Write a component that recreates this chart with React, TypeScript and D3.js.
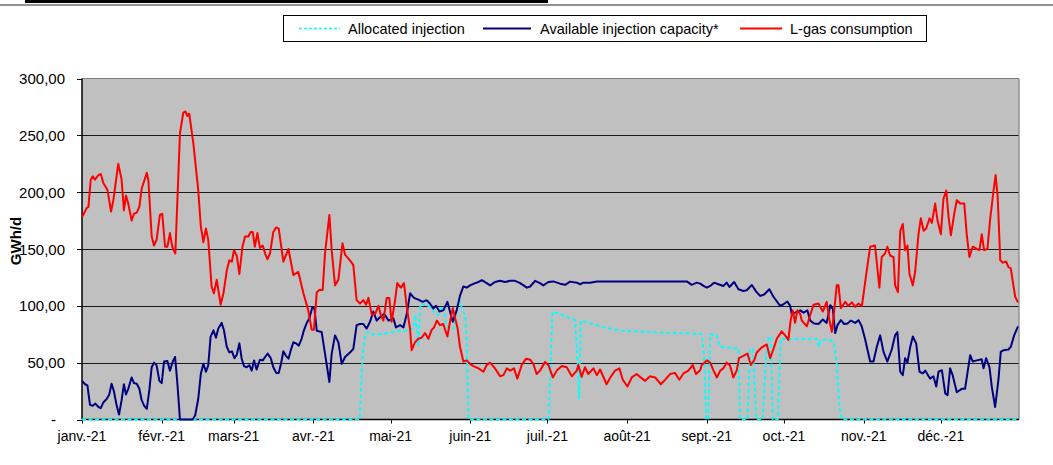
import React from 'react';
import * as d3 from 'd3';

const monthLabels = ["janv.-21", "févr.-21", "mars-21", "avr.-21", "mai-21", "juin-21", "juil.-21", "août-21", "sept.-21", "oct.-21", "nov.-21", "déc.-21"];
const yTicks = [0, 50, 100, 150, 200, 250, 300];
const seriesNames = ["Allocated injection", "Available injection capacity*", "L-gas consumption"];
const yTitle = "GWh/d";

// [day of year (0 = 1 Jan 2021), GWh/d]
const allocated: [number, number][] = [
  [0, 0], [108, 0], [109, 52], [110, 74], [111, 77], [113, 75], [116, 75], [118.5, 76], [121, 77], [124, 78], [126.5, 78.5],
  [129, 80], [129.5, 92], [130.2, 80], [130.8, 65], [131.5, 99], [132, 102], [134.7, 100], [136, 98.5], [137.3, 93], [138.6, 92],
  [139.9, 99], [140.8, 99], [141.6, 83], [143, 80], [144.7, 80], [145.7, 96], [147, 103.5], [148, 96], [149, 92], [149.6, 70],
  [150.3, 0], [181.4, 0], [183, 95], [191.8, 87.5], [192.7, 52], [193.3, 18], [194, 87], [196.3, 85.4], [204, 80.5], [210.5, 78],
  [223.5, 76.7], [235.2, 75.8], [241, 75.2], [242, 55], [242.7, 0], [243.5, 0], [244.3, 75], [246.8, 74.2], [248.1, 64],
  [255.3, 62.5], [255.9, 0], [258.8, 0], [259.8, 62], [261, 61], [262.2, 0], [264.7, 0], [266, 55], [267, 72.7], [267.9, 72],
  [268.6, 0], [270.6, 0], [271.7, 71], [285.7, 71], [286.5, 64], [287.3, 70], [291, 70], [292.5, 67], [293.5, 49], [294.6, 11],
  [295.5, 0], [364, 0]
];

const capacity: [number, number][] = [
  [0, 34], [1.2, 31], [2.1, 30], [3.1, 13], [4.1, 12], [5.2, 14], [6.4, 11], [7.3, 10], [8.3, 15], [9.6, 18], [10.6, 22],
  [11.5, 31.5], [12.4, 25], [13.5, 12], [14.4, 4.4], [15.4, 17], [16.3, 31], [17.1, 22], [18, 27], [19.3, 37], [20.2, 32],
  [21.3, 31.5], [22.3, 27], [23.2, 17], [24.2, 12], [25.2, 9.4], [26.2, 26], [27.1, 46], [28, 50], [29, 47.6], [30.1, 34],
  [31, 32], [31.9, 51], [33.2, 51.5], [34.2, 43], [35.3, 51], [36.2, 55], [37.1, 31.5], [38.1, 0], [43, 0], [44, 3.5],
  [45.2, 18], [46.2, 40], [47.2, 49], [48.2, 42], [49.1, 47.6], [50, 72.6], [51.1, 78.5], [52.1, 72], [53, 80], [54.3, 85],
  [55.2, 78.5], [56.3, 64], [57.3, 59], [58.3, 60], [59.3, 54], [60.2, 57], [61.2, 67], [62.1, 53.5], [63, 47], [64, 46],
  [65.1, 47.6], [66, 43], [66.9, 52], [67.9, 44], [69.2, 52.6], [70.3, 52], [71.2, 55], [72.2, 58], [73.4, 54], [74.4, 46],
  [75.5, 41], [76.5, 41], [77.4, 49], [78.3, 60], [79.3, 56], [80.3, 53.5], [81.2, 61], [82.2, 68], [83.2, 67], [84.3, 65],
  [85.4, 71], [86.3, 78.5], [87.4, 85], [88.4, 89], [89.6, 99], [90.4, 97.6], [91.3, 78], [93.2, 77], [94.5, 58], [96.2, 33],
  [97.1, 58], [98.4, 74], [99.7, 68], [101, 49], [102.3, 55], [104.2, 59], [105.5, 62], [106.8, 83], [108.1, 84], [109.4, 84],
  [110.7, 80], [112, 86], [113.3, 95], [114.6, 87], [115.9, 90], [117.5, 93], [119.2, 87], [121.1, 89], [122.1, 81], [123.7, 83],
  [125, 81], [126.3, 93], [127.6, 111], [129.1, 107], [130.8, 105.5], [132.5, 103.5], [134, 105], [135.3, 102], [136.6, 97.6],
  [137.7, 100], [139, 95], [140.5, 96], [142.1, 103.5], [143.1, 95], [144.2, 86], [145.7, 96], [147, 109], [148.3, 117],
  [149.6, 116], [150.9, 118], [152.9, 120], [154.2, 121], [155.5, 122.6], [157.4, 120], [158.7, 118], [160.6, 121], [162.6, 122],
  [164.5, 121], [166.5, 122], [168.4, 122], [170.4, 120], [173, 116], [174.3, 117], [176.2, 122], [178.1, 120], [179.4, 118],
  [181.4, 121], [183.3, 121.5], [185.9, 119.5], [187.9, 118.5], [189.8, 121.3], [192.4, 120.4], [193.7, 119], [195, 120.4],
  [197.6, 120.4], [200.2, 121.5], [210.5, 121.5], [235.2, 121.5], [237.1, 118.5], [239.1, 120.4], [240.4, 119.5], [241.7, 117.5],
  [243, 116], [244.3, 117.5], [245.8, 120.4], [247.5, 119], [249.4, 117.5], [250.7, 120.4], [251.8, 116.6], [253.6, 121],
  [255.3, 114.6], [257.2, 113], [258.5, 113.7], [260.5, 118.3], [262.2, 112.5], [263.7, 108.7], [265.3, 110], [267.3, 114.6],
  [268.9, 108], [271.5, 100], [272.8, 101.4], [274.3, 103.8], [275.4, 100], [276, 93], [277.3, 94], [279.3, 96], [280.6, 94],
  [282.1, 96], [283.2, 87], [284.7, 84.5], [286.4, 84], [288.1, 88], [289.6, 85], [291, 100.6], [292, 97], [292.9, 76],
  [293.8, 83], [295.1, 87.4], [296.4, 84], [297.7, 84.5], [299, 87], [300.7, 85], [302, 87.4], [303.2, 82], [304.5, 71],
  [306.5, 51], [307.8, 51], [309.1, 64], [310.4, 74], [311.7, 59.5], [313.2, 51], [314.9, 61.6], [316.2, 74], [317.1, 77],
  [318.2, 42], [319.2, 39], [320.1, 54], [321, 50], [322.1, 64], [323.1, 73], [324.4, 67], [325.7, 42], [327, 40.5], [327.9, 43],
  [329.8, 36], [331.1, 38], [332.2, 29], [333.1, 42], [334.4, 43.4], [335.7, 23], [336.6, 21.4], [337.6, 45], [338.6, 39],
  [340.2, 24], [342.1, 27], [343.4, 27], [345.4, 56.6], [346.4, 51], [348, 52], [349.9, 53], [350.6, 45], [351.6, 54],
  [352.9, 46], [353.8, 29], [355.1, 11], [356.4, 35], [357.3, 59.5], [358.4, 61], [360.3, 61.6], [361.2, 64], [362.5, 74], [364, 82]
];

const consumption: [number, number][] = [
  [0, 178], [1.8, 186], [2.5, 187], [3.4, 211], [4.2, 214], [5, 211], [6.4, 215], [7.3, 216], [8.3, 208], [9.9, 202], [11.3, 183],
  [12.2, 193], [14.1, 225], [15.4, 211], [16.3, 184], [17.1, 197], [18, 190], [19.3, 175], [20.2, 181], [21.3, 182], [22.3, 187],
  [23.2, 203], [25.2, 217], [25.8, 211], [27.1, 161], [28, 153], [29, 158], [30.3, 180], [31.2, 181], [32.3, 152], [33.2, 152],
  [34.2, 164], [35.1, 152], [36.3, 146], [38.1, 252], [39.4, 270], [40.2, 271], [41, 267], [41.7, 269], [43.3, 243], [45.2, 202],
  [46.2, 170], [47.2, 156], [48.2, 168], [49.1, 158], [50.4, 117], [51.3, 111], [52.4, 123], [53.9, 101], [55, 111], [56.3, 131],
  [57.3, 140], [58.3, 139], [59.1, 149], [60.2, 144], [61.2, 128], [62.4, 152], [63.4, 161], [64.7, 161], [65.6, 165], [66.4, 165],
  [67.2, 152], [68.2, 164], [69.2, 151], [70.3, 153], [71.2, 146], [72.1, 141], [73.1, 146], [74.4, 165], [75.5, 169], [76.5, 168],
  [78.3, 139], [80.3, 150], [82.2, 127], [84.1, 130], [86.1, 111], [88, 96], [89.3, 79], [90.2, 79], [91.3, 112], [92.3, 114],
  [93.6, 114], [94.5, 146], [96.2, 180], [97.1, 149], [98.4, 118], [99.7, 123], [101.3, 155], [102.3, 145], [104.2, 140],
  [105.5, 136], [106.8, 105], [108.1, 102], [109.4, 105], [110.5, 101], [111.4, 107], [112.7, 92], [114, 93], [115.3, 100],
  [116.2, 92], [117.2, 87], [118.5, 107], [119.5, 107], [120.4, 86], [121.7, 104], [122.6, 120], [124, 116], [125.2, 120],
  [126.3, 99], [127.6, 79], [128.2, 61], [129.5, 68], [130.8, 71], [132.1, 72], [133.4, 76], [134.7, 71], [136, 79], [136.9, 81],
  [138, 87], [139.2, 83], [140.5, 84], [141.2, 79], [142.1, 73], [143.1, 86], [144.2, 98], [145.1, 89], [146, 81], [147, 64],
  [148.3, 51], [149.6, 52], [150.9, 49], [152.2, 47], [154.2, 45], [156.1, 42], [157.4, 48], [158.7, 50], [160.6, 45], [162.6, 38],
  [163.9, 39], [165.2, 45], [166.5, 43], [168, 45], [169.3, 36], [171, 48], [172.7, 53.5], [174.3, 52.6], [175.5, 49], [176.8, 40],
  [178.1, 43], [180.1, 50.7], [181.4, 47.8], [183.1, 37], [184.6, 43], [186.6, 47], [188.5, 46], [190.5, 38], [192.4, 43], [193, 48],
  [194.3, 37.5], [195.6, 46], [196.9, 40], [198.9, 45], [200.2, 39], [201.5, 44], [204, 31], [205.6, 37.5], [207.3, 43], [209, 45],
  [210.3, 35], [212.1, 29], [213.8, 37], [215.7, 40], [217, 37.5], [219, 34], [220.9, 38], [222.9, 37], [225.1, 31], [226.8, 35],
  [228.7, 40], [230.6, 41], [232.3, 35], [233.9, 40.5], [235.8, 43], [237.5, 48], [238.8, 40], [240.4, 43.4], [241, 48], [243, 52],
  [244.3, 50], [245.6, 43], [246.9, 37], [248.2, 43], [249.4, 45], [250.7, 50], [252, 47.5], [253.3, 37], [254.6, 43], [255.5, 54],
  [257.2, 56], [258.8, 58], [260.1, 48], [261.4, 52], [262.4, 59], [264.4, 63.5], [266.3, 66], [267.6, 54], [268.9, 62], [270.2, 71],
  [272.1, 77.5], [273.4, 74], [274.7, 70], [275.6, 87.5], [276.4, 96], [277.3, 85], [278.2, 96], [279.3, 93], [279.9, 87], [281.9, 82],
  [283.2, 92], [284.5, 101], [286.4, 102], [288.1, 95], [289.6, 103.5], [290.7, 87], [291.6, 77], [292.5, 95], [293.5, 118],
  [294.2, 118], [295.1, 98], [296.8, 103.5], [298, 100], [299.4, 103], [300.7, 99], [301.9, 102], [303.3, 100], [305, 128],
  [306.5, 152], [308.4, 153], [310.1, 116], [311, 143], [312.3, 146], [313.2, 152], [314.3, 144], [315.6, 143], [316.2, 118],
  [317.3, 112], [318.2, 166], [319.2, 172], [320.1, 149], [321, 153], [321.8, 128], [323.1, 118], [324, 130], [325.3, 163],
  [326.2, 177], [327.3, 166], [328.3, 168], [329.6, 177], [330.5, 173], [331.8, 190], [332.7, 175], [334, 163], [335, 194],
  [336.1, 201.5], [337, 178], [337.9, 162], [339.2, 181], [340.2, 193], [341.5, 190], [343.1, 190], [344.1, 162], [345.1, 143],
  [346.4, 152], [348, 150], [349, 149], [349.9, 163], [350.8, 149], [352.1, 150], [353.2, 177], [354.5, 201.5], [355.3, 215],
  [356.1, 196], [357.1, 140], [358.1, 138], [359.4, 139], [360.3, 134], [361.2, 133], [362.9, 108], [364, 103]
];

const W = 1053;
const H = 465;
const FONT = '"Liberation Sans", Arial, Helvetica, sans-serif';

export default function App() {
  const year0 = new Date(Date.UTC(2021, 0, 1));
  const months = d3.utcMonths(year0, new Date(Date.UTC(2022, 0, 1)));
  const monthDays = months.map(m => d3.utcDay.count(year0, m));

  const plotLeft = 82;
  const plotRight = 1019;
  const plotTop = 78.5;
  const plotBottom = 419.5;

  const x = d3.scaleLinear().domain([0, 364]).range([plotLeft, 1018]);
  const y = d3.scaleLinear().domain([0, 300]).range([plotBottom, plotTop]);
  const line = d3.line<[number, number]>().x(d => x(d[0])).y(d => y(d[1]));
  const fmt = (v: number) => (v === 0 ? '-' : d3.format('.2f')(v).replace('.', ','));

  const colors = ['#00FFFF', '#000080', '#FF0000'];
  const legendLines = [[299, 340], [483, 531], [740, 782]];
  const legendText = [348, 540, 790];

  return (
    <svg width={W} height={H} style={{ position: 'absolute', left: 0, top: 0, background: '#fff' }} fontFamily={FONT}>
      <rect x={0} y={0} width={W} height={H} fill="#fff" />
      {/* top decoration */}
      <rect x={25} y={0} width={523} height={3} fill="#000" />
      <line x1={0} x2={W} y1={5} y2={5} stroke="#6e6e6e" strokeWidth={1.5} />

      {/* legend */}
      <rect x={283.5} y={15.5} width={643} height={26} fill="#fff" stroke="#000" strokeWidth={1} />
      {seriesNames.map((name, i) => (
        <g key={name}>
          <line x1={legendLines[i][0]} x2={legendLines[i][1]} y1={28.5} y2={28.5} stroke={colors[i]} strokeWidth={i === 0 ? 1.5 : 2}
            strokeDasharray={i === 0 ? '3,2' : undefined} />
          <text x={legendText[i]} y={33.5} fontSize={14.5} fill="#000">{name}</text>
        </g>
      ))}

      {/* plot area */}
      <rect x={plotLeft} y={plotTop} width={plotRight - plotLeft} height={plotBottom - plotTop} fill="#C0C0C0" />
      {yTicks.filter(t => t > 0 && t < 300).map(t => (
        <line key={t} x1={plotLeft} x2={plotRight} y1={Math.round(y(t)) + 0.5} y2={Math.round(y(t)) + 0.5} stroke="#1a1a1a" strokeWidth={1} />
      ))}
      <line x1={plotLeft} x2={plotRight} y1={plotTop} y2={plotTop} stroke="#808080" strokeWidth={1.2} />
      <line x1={plotRight} x2={plotRight} y1={plotTop} y2={plotBottom} stroke="#808080" strokeWidth={1.2} />

      {/* y axis */}
      <line x1={plotLeft} x2={plotLeft} y1={plotTop} y2={plotBottom} stroke="#000" strokeWidth={1.5} />
      {yTicks.map(t => (
        <g key={t}>
          <line x1={77} x2={plotLeft} y1={Math.round(y(t)) + 0.5} y2={Math.round(y(t)) + 0.5} stroke="#000" strokeWidth={1} />
          <text x={t === 0 ? 56 : 65} y={y(t) + 5.5} fontSize={15} textAnchor="end" fill="#000">{fmt(t)}</text>
        </g>
      ))}
      <text transform="translate(21,241) rotate(-90)" fontSize={15} fontWeight="bold" textAnchor="middle" fill="#000">{yTitle}</text>

      {/* x axis */}
      <line x1={plotLeft} x2={plotRight} y1={plotBottom} y2={plotBottom} stroke="#000" strokeWidth={1.5} />
      {monthDays.map((d, i) => (
        <g key={i}>
          <line x1={Math.round(x(d)) + 0.5} x2={Math.round(x(d)) + 0.5} y1={plotBottom} y2={plotBottom + 4} stroke="#000" strokeWidth={1} />
          <text x={x(d)} y={441} fontSize={14} textAnchor="middle" fill="#000">{monthLabels[i]}</text>
        </g>
      ))}

      {/* series */}
      <path d={line(allocated) || ''} fill="none" stroke={colors[0]} strokeWidth={1.8} strokeDasharray="4,2.5" />
      <path d={line(capacity) || ''} fill="none" stroke={colors[1]} strokeWidth={2} strokeLinejoin="round" />
      <path d={line(consumption) || ''} fill="none" stroke={colors[2]} strokeWidth={2} strokeLinejoin="round" />
    </svg>
  );
}
